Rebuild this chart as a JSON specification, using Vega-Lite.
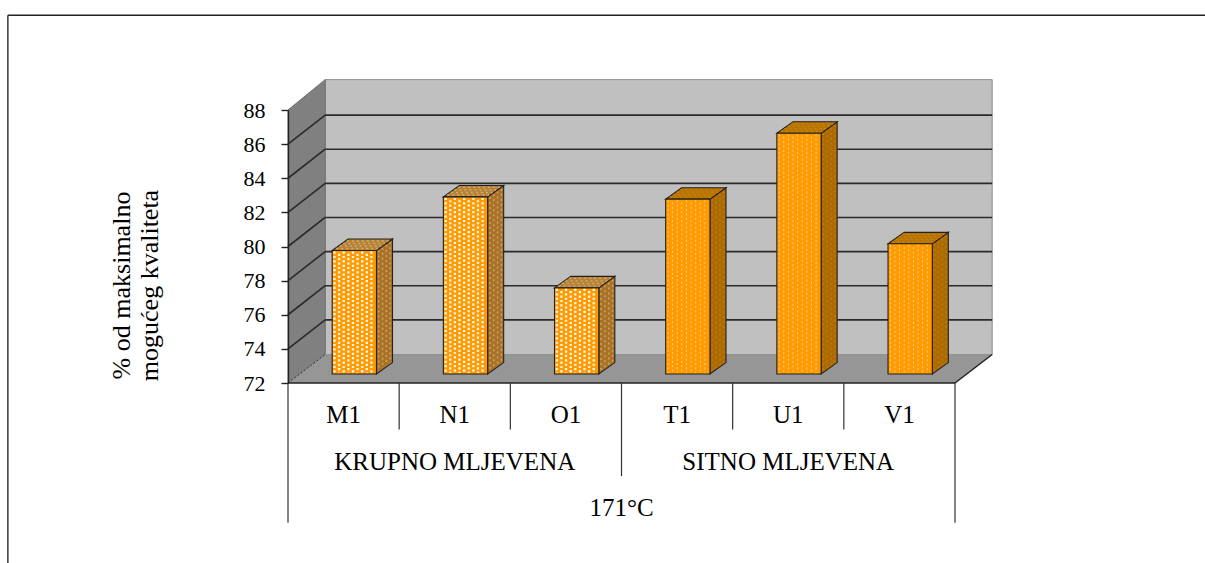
{
  "$schema": "https://vega.github.io/schema/vega-lite/v6.json",
  "autosize": {"type": "none"},
  "padding": {"left": 288, "top": 110, "right": 250, "bottom": 180},
  "width": 667,
  "height": 273,
  "background": "white",
  "config": {"view": {"stroke": null}, "text": {"font": "Liberation Serif"}},
  "resolve": {"axis": {"y": "independent"}},
  "datasets": {
    "bars": [
      {"sample": "M1", "grind": "KRUPNO MLJEVENA", "temperature": "171°C", "quality": 79.24},
      {"sample": "N1", "grind": "KRUPNO MLJEVENA", "temperature": "171°C", "quality": 82.38},
      {"sample": "O1", "grind": "KRUPNO MLJEVENA", "temperature": "171°C", "quality": 77.05},
      {"sample": "T1", "grind": "SITNO MLJEVENA", "temperature": "171°C", "quality": 82.25},
      {"sample": "U1", "grind": "SITNO MLJEVENA", "temperature": "171°C", "quality": 86.11},
      {"sample": "V1", "grind": "SITNO MLJEVENA", "temperature": "171°C", "quality": 79.63}
    ],
    "depth": [{"t": 0}, {"t": 1}],
    "levels": [{"level": 74}, {"level": 76}, {"level": 78}, {"level": 80}, {"level": 82}, {"level": 84}, {"level": 86}],
    "dividers": [
      {"edge": 0, "tier": 3}, {"edge": 1, "tier": 1}, {"edge": 2, "tier": 1}, {"edge": 3, "tier": 2},
      {"edge": 4, "tier": 1}, {"edge": 5, "tier": 1}, {"edge": 6, "tier": 3}
    ]
  },
  "layer": [
    {
      "description": "Top edge of the chart frame; also carries the value axis",
      "data": {"values": [{"frame": "top"}]},
      "mark": {"type": "rule", "stroke": "#222222", "strokeWidth": 1.4},
      "encoding": {
        "x": {"datum": -2.52, "type": "quantitative", "scale": {"domain": [0, 6], "nice": false, "zero": false}, "axis": null},
        "x2": {"datum": 8.3},
        "y": {"datum": 93.55, "type": "quantitative", "scale": {"domain": [72, 88], "nice": false, "zero": false},
          "axis": {
            "values": [72, 74, 76, 78, 80, 82, 84, 86, 88],
            "format": "d",
            "zindex": 1,
            "grid": false,
            "domainColor": "#222222",
            "domainWidth": 1.4,
            "tickColor": "#222222",
            "tickWidth": 1.4,
            "tickSize": 7,
            "labelFont": "Liberation Serif",
            "labelFontSize": 22,
            "labelColor": "black",
            "labelPadding": 16,
            "title": ["% od maksimalno", "mogućeg kvaliteta"],
            "titleFont": "Liberation Serif",
            "titleFontWeight": "normal",
            "titleFontSize": 26,
            "titleColor": "black",
            "titleLineHeight": 28,
            "titleAngle": -90,
            "titleX": -167,
            "titleY": 175,
            "titleAlign": "center",
            "titleBaseline": "middle"
          }
        }
      }
    },
    {
      "description": "Left edge of the chart frame",
      "data": {"values": [{"frame": "left"}]},
      "mark": {"type": "rule", "stroke": "#444444", "strokeWidth": 1.6},
      "encoding": {
        "x": {"datum": -2.52, "type": "quantitative", "axis": null},
        "y": {"datum": 93.55, "type": "quantitative", "axis": null},
        "y2": {"datum": 61.4}
      }
    },
    {
      "description": "Walls and floor of the box",
      "data": {"name": "depth"},
      "transform": [
        {"calculate": "0.3345", "as": "dx"},
        {"calculate": "1.67", "as": "dy"},
        {"calculate": "datum.t*datum.dx", "as": "sx"},
        {"calculate": "6+datum.t*datum.dx", "as": "ex"},
        {"calculate": "72+datum.t*datum.dy", "as": "low"},
        {"calculate": "88+datum.t*1.78", "as": "high"},
        {"calculate": "datum.dx+datum.t*6", "as": "backX"},
        {"calculate": "72+datum.dy", "as": "backLow"},
        {"calculate": "89.78", "as": "backHigh"}
      ],
      "layer": [
        {
          "mark": {"type": "area", "fill": "#c0c0c0", "stroke": "#8c8c8c", "strokeWidth": 1, "orient": "vertical"},
          "encoding": {
            "x": {"field": "backX", "type": "quantitative", "axis": null},
            "y": {"field": "backLow", "type": "quantitative", "axis": null, "stack": null},
            "y2": {"field": "backHigh"}
          }
        },
        {
          "mark": {"type": "area", "fill": "#808080", "stroke": "#6e6e6e", "strokeWidth": 1, "orient": "vertical"},
          "encoding": {
            "x": {"field": "sx", "type": "quantitative", "axis": null},
            "y": {"field": "low", "type": "quantitative", "axis": null, "stack": null},
            "y2": {"field": "high"}
          }
        },
        {
          "mark": {"type": "area", "fill": "#969696", "orient": "horizontal"},
          "encoding": {
            "y": {"field": "low", "type": "quantitative", "axis": null},
            "x": {"field": "sx", "type": "quantitative", "axis": null, "stack": null},
            "x2": {"field": "ex"}
          }
        }
      ]
    },
    {
      "description": "Grid lines running across the side wall and the back wall",
      "data": {"name": "levels"},
      "transform": [
        {"calculate": "0.3345", "as": "dx"},
        {"calculate": "6.3345", "as": "ex"},
        {"calculate": "0", "as": "front"},
        {"calculate": "datum.level+1.7", "as": "back"}
      ],
      "layer": [
        {
          "mark": {"type": "rule", "stroke": "#2a2a2a", "strokeWidth": 1.6},
          "encoding": {
            "x": {"field": "front", "type": "quantitative", "axis": null},
            "x2": {"field": "dx"},
            "y": {"field": "level", "type": "quantitative", "axis": null},
            "y2": {"field": "back"}
          }
        },
        {
          "mark": {"type": "rule", "stroke": "#2a2a2a", "strokeWidth": 1.6},
          "encoding": {
            "x": {"field": "dx", "type": "quantitative", "axis": null},
            "x2": {"field": "ex"},
            "y": {"field": "back", "type": "quantitative", "axis": null}
          }
        }
      ]
    },
    {
      "description": "Floor edges",
      "data": {"name": "depth"},
      "transform": [
        {"filter": "datum.t==1"},
        {"calculate": "0", "as": "zero"},
        {"calculate": "6", "as": "six"},
        {"calculate": "6.3345", "as": "backX"},
        {"calculate": "0.3345", "as": "backLeft"},
        {"calculate": "72", "as": "base"},
        {"calculate": "73.67", "as": "backBase"}
      ],
      "layer": [
        {
          "mark": {"type": "rule", "stroke": "#222222", "strokeWidth": 1.5},
          "encoding": {
            "x": {"field": "zero", "type": "quantitative", "axis": null},
            "x2": {"field": "six"},
            "y": {"field": "base", "type": "quantitative", "axis": null}
          }
        },
        {
          "mark": {"type": "rule", "stroke": "#222222", "strokeWidth": 1.5},
          "encoding": {
            "x": {"field": "six", "type": "quantitative", "axis": null},
            "x2": {"field": "backX"},
            "y": {"field": "base", "type": "quantitative", "axis": null},
            "y2": {"field": "backBase"}
          }
        },
        {
          "mark": {"type": "rule", "stroke": "#333333", "strokeWidth": 1, "strokeDash": [2, 2]},
          "encoding": {
            "x": {"field": "zero", "type": "quantitative", "axis": null},
            "x2": {"field": "backLeft"},
            "y": {"field": "base", "type": "quantitative", "axis": null},
            "y2": {"field": "backBase"}
          }
        }
      ]
    },
    {
      "description": "Bars: side face, top face, front face and their stipple",
      "data": {"name": "bars"},
      "transform": [
        {"window": [{"op": "row_number", "as": "n"}]},
        {"calculate": "datum.n-1+0.3975", "as": "left"},
        {"calculate": "datum.left+0.3985", "as": "right"},
        {"calculate": "datum.quality+0.527", "as": "top"},
        {"calculate": "72.527", "as": "base"}
      ],
      "layer": [
        {
          "transform": [
            {"calculate": "[0,1]", "as": "t"},
            {"flatten": ["t"]},
            {"calculate": "datum.right+datum.t*0.144", "as": "sx"},
            {"calculate": "datum.top+datum.t*0.67", "as": "st"},
            {"calculate": "datum.base+datum.t*0.67", "as": "sb"}
          ],
          "mark": {"type": "area", "stroke": "#222222", "strokeWidth": 1.1, "orient": "vertical"},
          "encoding": {
            "x": {"field": "sx", "type": "quantitative", "axis": null},
            "y": {"field": "st", "type": "quantitative", "axis": null, "stack": null},
            "y2": {"field": "sb"},
            "detail": {"field": "sample"},
            "fill": {"condition": {"test": "datum.grind==='KRUPNO MLJEVENA'", "value": "#a87228"}, "value": "#ad6a00"}
          }
        },
        {
          "transform": [
            {"calculate": "[0,1]", "as": "t"},
            {"flatten": ["t"]},
            {"calculate": "datum.left+datum.t*0.144", "as": "tl"},
            {"calculate": "datum.right+datum.t*0.144", "as": "tr"},
            {"calculate": "datum.top+datum.t*0.67", "as": "ty"}
          ],
          "mark": {"type": "area", "stroke": "#222222", "strokeWidth": 1.1, "orient": "horizontal"},
          "encoding": {
            "y": {"field": "ty", "type": "quantitative", "axis": null},
            "x": {"field": "tl", "type": "quantitative", "axis": null, "stack": null},
            "x2": {"field": "tr"},
            "detail": {"field": "sample"},
            "fill": {"condition": {"test": "datum.grind==='KRUPNO MLJEVENA'", "value": "#b5823a"}, "value": "#b87400"}
          }
        },
        {
          "transform": [
            {"calculate": "[0.14,0.38,0.62,0.86]", "as": "t"},
            {"flatten": ["t"]},
            {"calculate": "datum.right+datum.t*0.144", "as": "sx"},
            {"calculate": "datum.top+datum.t*0.67-0.1", "as": "st"},
            {"calculate": "datum.base+datum.t*0.67+0.1", "as": "sb"}
          ],
          "mark": {"type": "rule", "strokeDash": [2, 3], "strokeWidth": 1.6},
          "encoding": {
            "x": {"field": "sx", "type": "quantitative", "axis": null},
            "y": {"field": "st", "type": "quantitative", "axis": null},
            "y2": {"field": "sb"},
            "stroke": {"condition": {"test": "datum.grind==='KRUPNO MLJEVENA'", "value": "#cfa05a"}, "value": "#bd7a10"}
          }
        },
        {
          "transform": [
            {"calculate": "[0.17,0.39,0.61,0.83]", "as": "t"},
            {"flatten": ["t"]},
            {"calculate": "datum.left+datum.t*0.144+0.012", "as": "tl"},
            {"calculate": "datum.right+datum.t*0.144-0.012", "as": "tr"},
            {"calculate": "datum.top+datum.t*0.67", "as": "ty"}
          ],
          "mark": {"type": "rule", "strokeDash": [2, 3], "strokeWidth": 1.4},
          "encoding": {
            "x": {"field": "tl", "type": "quantitative", "axis": null},
            "x2": {"field": "tr"},
            "y": {"field": "ty", "type": "quantitative", "axis": null},
            "stroke": {"condition": {"test": "datum.grind==='KRUPNO MLJEVENA'", "value": "#d8ac64"}, "value": "#c98410"}
          }
        },
        {
          "mark": {"type": "rect", "fill": "#ff9a00", "stroke": "#222222", "strokeWidth": 1.1},
          "encoding": {
            "x": {"field": "left", "type": "quantitative", "axis": null},
            "x2": {"field": "right"},
            "y": {"field": "top", "type": "quantitative", "axis": null},
            "y2": {"field": "base"}
          }
        },
        {
          "transform": [
            {"calculate": "[1,3,5,7,9]", "as": "col"},
            {"flatten": ["col"]},
            {"calculate": "datum.left+(datum.col-0.5)/9.6*(datum.right-datum.left)", "as": "dotX"},
            {"calculate": "datum.top-0.06", "as": "dotTop"},
            {"calculate": "datum.base+0.06", "as": "dotBase"}
          ],
          "mark": {"type": "rule", "stroke": "white", "strokeDash": [2.2, 2.2]},
          "encoding": {
            "x": {"field": "dotX", "type": "quantitative", "axis": null},
            "y": {"field": "dotTop", "type": "quantitative", "axis": null},
            "y2": {"field": "dotBase"},
            "strokeWidth": {"condition": {"test": "datum.grind==='KRUPNO MLJEVENA'", "value": 2.3}, "value": 1},
            "strokeOpacity": {"condition": {"test": "datum.grind==='KRUPNO MLJEVENA'", "value": 0.92}, "value": 0.5}
          }
        },
        {
          "transform": [
            {"calculate": "[2,4,6,8]", "as": "col"},
            {"flatten": ["col"]},
            {"calculate": "datum.left+(datum.col-0.5)/9.6*(datum.right-datum.left)", "as": "dotX"},
            {"calculate": "datum.top-0.19", "as": "dotTop"},
            {"calculate": "datum.base+0.06", "as": "dotBase"}
          ],
          "mark": {"type": "rule", "stroke": "white", "strokeDash": [2.2, 2.2]},
          "encoding": {
            "x": {"field": "dotX", "type": "quantitative", "axis": null},
            "y": {"field": "dotTop", "type": "quantitative", "axis": null},
            "y2": {"field": "dotBase"},
            "strokeWidth": {"condition": {"test": "datum.grind==='KRUPNO MLJEVENA'", "value": 2.3}, "value": 1},
            "strokeOpacity": {"condition": {"test": "datum.grind==='KRUPNO MLJEVENA'", "value": 0.92}, "value": 0.5}
          }
        }
      ]
    },
    {
      "description": "Dividers of the three-tier category axis",
      "data": {"name": "dividers"},
      "transform": [
        {"calculate": "72", "as": "axisLine"},
        {"calculate": "72-datum.tier*2.73", "as": "bottom"}
      ],
      "mark": {"type": "rule", "stroke": "#333333", "strokeWidth": 1.2},
      "encoding": {
        "x": {"field": "edge", "type": "quantitative", "axis": null},
        "y": {"field": "axisLine", "type": "quantitative", "axis": null},
        "y2": {"field": "bottom"}
      }
    },
    {
      "description": "Sample labels",
      "data": {"name": "bars"},
      "transform": [
        {"window": [{"op": "row_number", "as": "n"}]},
        {"calculate": "datum.n-0.5", "as": "cx"},
        {"calculate": "70.12", "as": "ly"}
      ],
      "mark": {"type": "text", "fontSize": 25, "fill": "black"},
      "encoding": {
        "x": {"field": "cx", "type": "quantitative", "axis": null},
        "y": {"field": "ly", "type": "quantitative", "axis": null},
        "text": {"field": "sample"}
      }
    },
    {
      "description": "Grind labels, centred over their samples",
      "data": {"name": "bars"},
      "transform": [
        {"window": [{"op": "row_number", "as": "n"}]},
        {"aggregate": [{"op": "mean", "field": "n", "as": "mid"}], "groupby": ["grind"]},
        {"calculate": "datum.mid-0.5", "as": "cx"},
        {"calculate": "67.39", "as": "ly"}
      ],
      "mark": {"type": "text", "fontSize": 25, "fill": "black"},
      "encoding": {
        "x": {"field": "cx", "type": "quantitative", "axis": null},
        "y": {"field": "ly", "type": "quantitative", "axis": null},
        "text": {"field": "grind"}
      }
    },
    {
      "description": "Temperature label, centred under all samples",
      "data": {"name": "bars"},
      "transform": [
        {"window": [{"op": "row_number", "as": "n"}]},
        {"aggregate": [{"op": "mean", "field": "n", "as": "mid"}], "groupby": ["temperature"]},
        {"calculate": "datum.mid-0.5", "as": "cx"},
        {"calculate": "64.66", "as": "ly"}
      ],
      "mark": {"type": "text", "fontSize": 25, "fill": "black"},
      "encoding": {
        "x": {"field": "cx", "type": "quantitative", "axis": null},
        "y": {"field": "ly", "type": "quantitative", "axis": null},
        "text": {"field": "temperature"}
      }
    }
  ]
}
